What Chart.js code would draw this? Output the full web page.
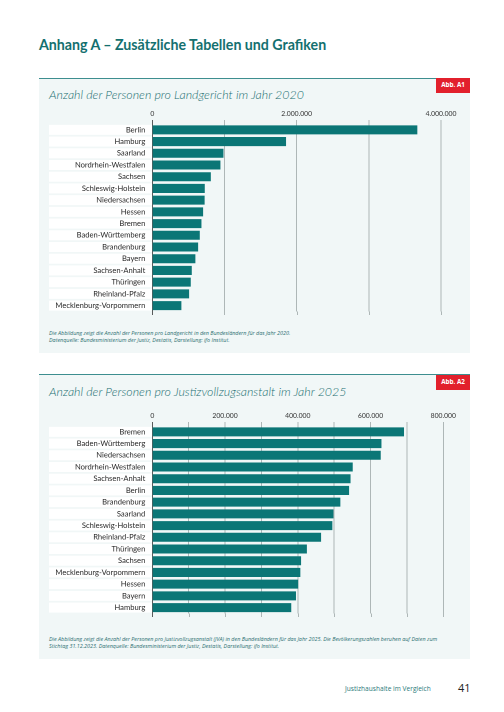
<!DOCTYPE html>
<html><head><meta charset="utf-8">
<script src="https://cdn.jsdelivr.net/npm/chart.js@4.4.0/dist/chart.umd.min.js"></script>
<style>
html,body{margin:0;padding:0;background:#fff;}
#page{position:relative;width:504px;height:712px;overflow:hidden;background:#fff;font-family:Lato,"Open Sans",sans-serif;}
.abs{position:absolute;white-space:nowrap;}
.panel{position:absolute;left:39px;width:431px;background:#f1f7f7;border-top:1.2px solid #3d8e8f;}
.tag{position:absolute;left:436px;width:34px;height:14.5px;background:#e2202c;color:#fff;font-weight:bold;font-size:6.3px;line-height:14.5px;text-align:center;font-family:"Open Sans",sans-serif;}
.ctitle{font-family:Lato,sans-serif;font-style:italic;font-weight:300;font-size:12.4px;color:#226f71;line-height:14px;}
.note{font-family:"Open Sans",sans-serif;font-style:italic;font-size:5.4px;color:#2b6f71;line-height:7px;}
canvas{position:absolute;}
</style></head>
<body><div id="page">
<div class="abs" style="left:39px;top:36px;font-family:Lato,sans-serif;font-weight:700;font-size:14.2px;line-height:18px;color:#14706f;">Anhang A – Zusätzliche Tabellen und Grafiken</div>

<div class="panel" style="top:78px;height:274px;"></div>
<div class="tag" style="top:78px;">Abb. A1</div>
<div class="abs ctitle" style="left:49px;top:88px;">Anzahl der Personen pro Landgericht im Jahr 2020</div>
<div style="position:absolute;left:49px;top:108px;width:421px;height:215px;"><canvas id="c1"></canvas></div>
<div class="abs note" style="left:49px;top:329.5px;">Die Abbildung zeigt die Anzahl der Personen pro Landgericht in den Bundesländern für das Jahr 2020.<br>Datenquelle: Bundesministerium der Justiz, Destatis, Darstellung: ifo Institut.</div>

<div class="panel" style="top:374px;height:284px;"></div>
<div class="tag" style="top:375px;">Abb. A2</div>
<div class="abs ctitle" style="left:49px;top:384.5px;">Anzahl der Personen pro Justizvollzugsanstalt im Jahr 2025</div>
<div style="position:absolute;left:49px;top:410px;width:421px;height:215px;"><canvas id="c2"></canvas></div>
<div class="abs note" style="left:49px;top:635.5px;">Die Abbildung zeigt die Anzahl der Personen pro Justizvollzugsanstalt (JVA) in den Bundesländern für das Jahr 2025. Die Bevölkerungszahlen beruhen auf Daten zum<br>Stichtag 31.12.2023. Datenquelle: Bundesministerium der Justiz, Destatis, Darstellung: ifo Institut.</div>

<div class="abs" style="left:345px;top:684px;font-family:'Open Sans',sans-serif;font-size:6.6px;line-height:9px;color:#2b7a7b;">Justizhaushalte im Vergleich</div>
<div class="abs" style="left:458px;top:681px;font-family:'Open Sans',sans-serif;font-size:11px;line-height:14px;color:#222;">41</div>
</div>
<script>
// ---- Data ----
const landgerichtCategories = ["Berlin","Hamburg","Saarland","Nordrhein-Westfalen","Sachsen","Schleswig-Holstein","Niedersachsen","Hessen","Bremen","Baden-Württemberg","Brandenburg","Bayern","Sachsen-Anhalt","Thüringen","Rheinland-Pfalz","Mecklenburg-Vorpommern"];
const landgerichtValues = [3672000,1853000,986000,944000,811000,727000,725000,704000,681000,658000,635000,597000,547000,533000,510000,403000];
const landgerichtTickLabels = ["0","2.000.000","4.000.000"];

const jvaCategories = ["Bremen","Baden-Württemberg","Niedersachsen","Nordrhein-Westfalen","Sachsen-Anhalt","Berlin","Brandenburg","Saarland","Schleswig-Holstein","Rheinland-Pfalz","Thüringen","Sachsen","Mecklenburg-Vorpommern","Hessen","Bayern","Hamburg"];
const jvaValues = [692000,630000,628000,551000,545000,541000,517000,498000,495000,464000,425000,409000,407000,401000,395000,382000];
const jvaTickLabels = ["0","200.000","400.000","600.000","800.000"];

// ---- Helpers ----
function fmt(v){ return String(Math.round(v)).replace(/\B(?=(\d{3})+(?!\d))/g, "."); }

const bandPlugin = {
  id:'bands',
  beforeDraw(chart){
    const ctx = chart.ctx, y = chart.scales.y, x = chart.scales.x;
    ctx.save();
    ctx.fillStyle = '#ffffff';
    for(let i=0;i<y.ticks.length;i++){
      const py = y.getPixelForTick(i);
      ctx.fillRect(0, py-5, x.left, 10);
    }
    ctx.restore();
  },
  afterDraw(chart){
    const ctx = chart.ctx, x = chart.scales.x, a = chart.chartArea;
    ctx.save();
    ctx.lineWidth = 0.8;
    x.ticks.forEach((t,i)=>{
      const px = Math.round(x.getPixelForTick(i))+0.5;
      ctx.strokeStyle = t.value===0 ? '#333' : '#9ea6a6';
      ctx.beginPath(); ctx.moveTo(px, a.bottom); ctx.lineTo(px, a.bottom+3.5); ctx.stroke();
    });
    ctx.restore();
  }
};

function makeChart(id, cats, vals, max, step, labels, padRight){
  const labelSet = new Set(labels);
  return new Chart(document.getElementById(id), {
    type:'bar',
    data:{ labels:cats, datasets:[{ data:vals, backgroundColor:'#0b7676', borderWidth:0, barPercentage:0.77, categoryPercentage:1 }]},
    options:{
      indexAxis:'y', responsive:true, maintainAspectRatio:false, animation:false,
      devicePixelRatio:2,
      layout:{ padding:{ top:0, right:padRight, bottom:9.4, left:0 } },
      plugins:{ legend:{display:false}, tooltip:{enabled:false} },
      scales:{
        x:{
          position:'top', min:0, max:max,
          afterFit(s){ s.height = 16; },
          afterBuildTicks(s){ const t=[]; for(let v=0; v<=max; v+=step) t.push({value:v}); s.ticks=t; },
          ticks:{ padding:2, maxRotation:0, autoSkip:false,
            font:{ family:'Lato', size:6.8 }, color:'#333',
            callback(v){ const s = fmt(v); return labelSet.has(s) ? s : ''; } },
          grid:{ color:(c)=> (c.tick && c.tick.value===0) ? '#333' : '#9ea6a6', lineWidth:0.8, tickLength:4, drawTicks:true },
          border:{ display:false }
        },
        y:{
          afterFit(s){ s.width = 103.3; },
          ticks:{ padding:7, font:{ family:'Lato', size:7.6 }, color:'#2a2a2a', autoSkip:false },
          grid:{ display:false, drawTicks:false },
          border:{ display:false }
        }
      }
    },
    plugins:[bandPlugin]
  });
}

makeChart('c1', landgerichtCategories, landgerichtValues, 4000000, 1000000, landgerichtTickLabels, 29);
makeChart('c2', jvaCategories, jvaValues, 800000, 100000, jvaTickLabels, 26.7);
</script>
</body></html>
